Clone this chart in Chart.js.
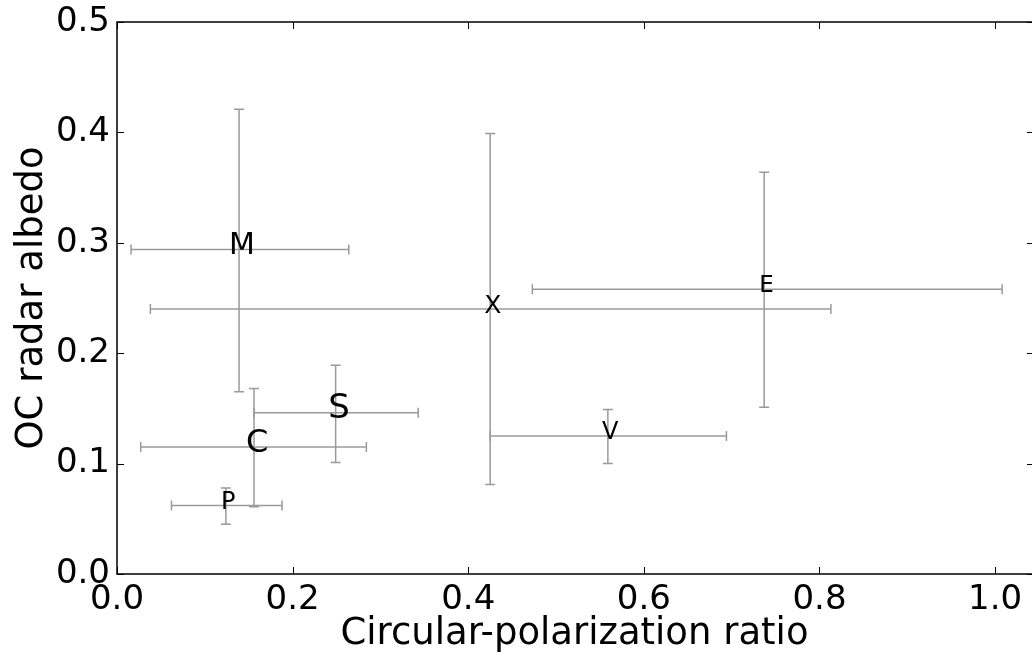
<!DOCTYPE html>
<html>
<head>
<meta charset="utf-8">
<script src="https://cdn.jsdelivr.net/npm/chart.js@4.4.0/dist/chart.umd.min.js"></script>
<style>
html, body { margin: 0; padding: 0; background: #fff; overflow: hidden; }
#wrap { width: 1032px; height: 653px; }
</style>
</head>
<body>
<div id="wrap"><canvas id="myChart"></canvas></div>
<script>
// taxonomic classes and their mean values with error ranges
var classes = ['M', 'X', 'E', 'S', 'C', 'P', 'V'];
var cpr = [0.139, 0.425, 0.737, 0.249, 0.156, 0.124, 0.559];
var cprLow = [0.016, 0.038, 0.473, 0.156, 0.027, 0.062, 0.425];
var cprHigh = [0.264, 0.813, 1.008, 0.343, 0.284, 0.188, 0.694];
var albedo = [0.294, 0.240, 0.258, 0.146, 0.115, 0.062, 0.125];
var albedoLow = [0.165, 0.081, 0.151, 0.101, 0.061, 0.045, 0.100];
var albedoHigh = [0.421, 0.399, 0.364, 0.189, 0.168, 0.078, 0.149];
var xTicks = [0, 0.2, 0.4, 0.6, 0.8, 1.0];
var yTicks = [0, 0.1, 0.2, 0.3, 0.4, 0.5];

// label font size per class
var labelSizes = [30, 25, 23, 34, 32, 24, 24];

Chart.defaults.font.family = "'DejaVu Sans', sans-serif";
Chart.defaults.color = '#000';

var errorBars = {
    id: 'errorBars',
    afterDatasetsDraw: function (chart) {
        var ctx = chart.ctx, sx = chart.scales.x, sy = chart.scales.y, a = chart.chartArea;
        var cap = 5;
        ctx.save();
        ctx.beginPath();
        ctx.rect(a.left, a.top, a.right - a.left, a.bottom - a.top);
        ctx.clip();
        ctx.strokeStyle = '#9a9a9a';
        ctx.lineWidth = 1.5;
        for (var i = 0; i < classes.length; i++) {
            var px = sx.getPixelForValue(cpr[i]), py = sy.getPixelForValue(albedo[i]);
            var x0 = sx.getPixelForValue(cprLow[i]), x1 = sx.getPixelForValue(cprHigh[i]);
            var y0 = sy.getPixelForValue(albedoLow[i]), y1 = sy.getPixelForValue(albedoHigh[i]);
            ctx.beginPath();
            ctx.moveTo(x0, py); ctx.lineTo(x1, py);
            ctx.moveTo(x0, py - cap); ctx.lineTo(x0, py + cap);
            ctx.moveTo(x1, py - cap); ctx.lineTo(x1, py + cap);
            ctx.moveTo(px, y0); ctx.lineTo(px, y1);
            ctx.moveTo(px - cap, y0); ctx.lineTo(px + cap, y0);
            ctx.moveTo(px - cap, y1); ctx.lineTo(px + cap, y1);
            ctx.stroke();
        }
        // labels sit a little up and right, like centred text with descent
        ctx.fillStyle = '#000';
        ctx.textAlign = 'center';
        ctx.textBaseline = 'middle';
        for (var j = 0; j < classes.length; j++) {
            var fs = labelSizes[j];
            ctx.font = fs + "px 'DejaVu Sans'";
            ctx.fillText(classes[j], sx.getPixelForValue(cpr[j]) + fs * 0.1, sy.getPixelForValue(albedo[j]) - fs * 0.12);
        }
        ctx.restore();

        // frame (right spine falls just outside the picture) with inward ticks
        ctx.save();
        ctx.strokeStyle = '#000';
        ctx.lineWidth = 1.5;
        ctx.beginPath();
        ctx.moveTo(chart.width + 2, a.top); ctx.lineTo(a.left, a.top);
        ctx.lineTo(a.left, a.bottom); ctx.lineTo(chart.width + 2, a.bottom);
        ctx.stroke();
        ctx.lineWidth = 1;
        ctx.beginPath();
        xTicks.forEach(function (v) {
            var p = Math.round(sx.getPixelForValue(v)) + 0.5;
            ctx.moveTo(p, a.bottom); ctx.lineTo(p, a.bottom - 7);
            ctx.moveTo(p, a.top); ctx.lineTo(p, a.top + 7);
        });
        yTicks.forEach(function (v) {
            var p = Math.round(sy.getPixelForValue(v)) + 0.5;
            ctx.moveTo(a.left, p); ctx.lineTo(a.left + 7, p);
            ctx.moveTo(a.right + 1, p); ctx.lineTo(a.right - 5, p);
        });
        ctx.stroke();
        ctx.restore();
    }
};

var ctx = document.getElementById('myChart');
var myChart = new Chart(ctx, {
    type: 'scatter',
    data: {
        datasets: [{
            data: cpr.map(function (v, i) { return { x: v, y: albedo[i] }; }),
            pointRadius: 0
        }]
    },
    options: {
        responsive: true,
        maintainAspectRatio: false,
        animation: false,
        events: [],
        layout: { padding: { top: 22, right: 0, left: 0, bottom: 0 } },
        plugins: { legend: { display: false }, tooltip: { enabled: false } },
        scales: {
            x: {
                type: 'linear',
                min: 0,
                max: 1.042,
                afterFit: function (s) {
                    s.height = 79;
                    s.paddingLeft = 0; s.paddingRight = 0;
                },
                afterBuildTicks: function (s) { s.ticks = xTicks.map(function (v) { return { value: v }; }); },
                grid: { display: false, drawTicks: false },
                border: { display: false },
                ticks: {
                    padding: 6,
                    font: { size: 34 },
                    callback: function (v) { return v.toFixed(1); }
                },
                title: {
                    display: true,
                    text: 'Circular-polarization ratio',
                    font: { size: 37 },
                    padding: { top: 0, bottom: -4 }
                }
            },
            y: {
                type: 'linear',
                min: 0,
                max: 0.5,
                afterFit: function (s) {
                    s.width = 117;
                    s.paddingTop = 0; s.paddingBottom = 0;
                },
                afterBuildTicks: function (s) { s.ticks = yTicks.map(function (v) { return { value: v }; }); },
                grid: { display: false, drawTicks: false },
                border: { display: false },
                ticks: {
                    padding: 7,
                    font: { size: 34 },
                    callback: function (v) { return v.toFixed(1); }
                },
                title: {
                    display: true,
                    text: 'OC radar albedo',
                    font: { size: 37 },
                    padding: { top: 10, bottom: 0 }
                }
            }
        }
    },
    plugins: [errorBars]
});
</script>
</body>
</html>
